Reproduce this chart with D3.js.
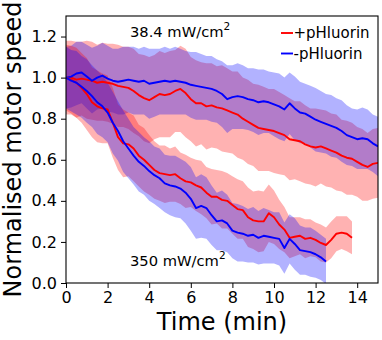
<!DOCTYPE html>
<html>
<head>
<meta charset="utf-8">
<script src="https://cdn.jsdelivr.net/npm/d3@7"></script>
<style>
  html, body { margin: 0; padding: 0; background: #fff; }
  svg { display: block; font-family: "DejaVu Sans", sans-serif; }
</style>
</head>
<body>
<svg id="chart" width="382" height="340"></svg>
<script>
// ---- data ----
const timeMin = [0,0.25,0.5,0.75,1,1.25,1.5,1.75,2,2.25,2.5,2.75,3,3.25,3.5,3.75,4,4.25,4.5,4.75,5,5.25,5.5,5.75,6,6.25,6.5,6.75,7,7.25,7.5,7.75,8,8.25,8.5,8.75,9,9.25,9.5,9.75,10,10.25,10.5,10.75,11,11.25,11.5,11.75,12,12.25,12.5,12.75,13,13.25,13.5,13.75,14,14.25,14.5,14.75,15];

// 38.4 mW/cm^2, +pHluorin
const lowIntRedMean = [1.00,1.00,0.99,0.995,0.99,0.985,0.975,0.98,0.975,0.97,0.96,0.955,0.95,0.935,0.915,0.90,0.89,0.905,0.92,0.915,0.92,0.935,0.945,0.925,0.895,0.875,0.875,0.86,0.865,0.855,0.85,0.84,0.83,0.82,0.80,0.785,0.77,0.755,0.75,0.745,0.74,0.73,0.72,0.70,0.695,0.69,0.675,0.665,0.66,0.665,0.655,0.645,0.635,0.62,0.61,0.605,0.59,0.575,0.565,0.58,0.585];
const lowIntRedSd = [0.18,0.18,0.185,0.18,0.19,0.19,0.185,0.19,0.19,0.195,0.20,0.195,0.20,0.205,0.20,0.21,0.21,0.205,0.21,0.205,0.21,0.20,0.21,0.215,0.205,0.21,0.20,0.21,0.205,0.20,0.21,0.205,0.20,0.21,0.20,0.205,0.20,0.21,0.205,0.20,0.205,0.20,0.195,0.20,0.19,0.195,0.19,0.185,0.19,0.18,0.185,0.18,0.185,0.175,0.18,0.175,0.17,0.175,0.165,0.17,0.17];
// 38.4 mW/cm^2, -pHluorin
const lowIntBlueMean = [1.00,1.005,1.02,1.025,1.005,0.985,1.0,1.01,0.995,0.985,0.98,0.985,0.99,0.985,0.98,0.985,0.97,0.975,0.98,0.985,0.98,0.985,0.98,0.975,0.965,0.96,0.955,0.95,0.945,0.935,0.92,0.895,0.905,0.91,0.905,0.895,0.89,0.88,0.885,0.88,0.87,0.86,0.845,0.875,0.85,0.83,0.825,0.81,0.795,0.785,0.775,0.765,0.755,0.74,0.72,0.71,0.70,0.705,0.70,0.68,0.665];
const lowIntBlueSd = [0.15,0.15,0.155,0.15,0.155,0.16,0.155,0.16,0.16,0.155,0.16,0.165,0.16,0.165,0.16,0.165,0.17,0.165,0.16,0.165,0.16,0.165,0.16,0.155,0.16,0.165,0.16,0.155,0.16,0.155,0.16,0.165,0.155,0.16,0.155,0.15,0.155,0.16,0.155,0.15,0.155,0.16,0.155,0.15,0.155,0.15,0.145,0.15,0.155,0.15,0.145,0.15,0.145,0.15,0.145,0.14,0.145,0.15,0.145,0.14,0.145];

// 350 mW/cm^2, +pHluorin (0 - 13.75 min)
const highIntRedMean = [1.00,0.99,0.975,0.95,0.92,0.88,0.86,0.85,0.845,0.78,0.71,0.68,0.675,0.655,0.62,0.60,0.575,0.55,0.535,0.53,0.525,0.53,0.51,0.495,0.49,0.475,0.465,0.44,0.42,0.42,0.405,0.40,0.38,0.36,0.355,0.32,0.305,0.30,0.30,0.34,0.32,0.285,0.26,0.22,0.225,0.23,0.215,0.22,0.21,0.195,0.185,0.21,0.24,0.245,0.24,0.22];
const highIntRedSd = [0.16,0.165,0.17,0.17,0.175,0.17,0.175,0.17,0.165,0.17,0.16,0.165,0.155,0.16,0.15,0.155,0.145,0.14,0.135,0.14,0.13,0.135,0.125,0.13,0.12,0.125,0.13,0.125,0.135,0.13,0.14,0.135,0.14,0.145,0.14,0.145,0.14,0.15,0.145,0.14,0.13,0.12,0.11,0.10,0.095,0.09,0.095,0.09,0.085,0.09,0.085,0.09,0.085,0.08,0.085,0.08];
// 350 mW/cm^2, -pHluorin (0 - 12.5 min)
const highIntBlueMean = [1.00,0.985,0.975,0.955,0.935,0.91,0.88,0.86,0.83,0.78,0.74,0.69,0.655,0.62,0.59,0.57,0.545,0.525,0.51,0.485,0.475,0.47,0.46,0.44,0.41,0.365,0.375,0.365,0.33,0.30,0.305,0.29,0.255,0.245,0.24,0.23,0.235,0.22,0.23,0.225,0.22,0.215,0.17,0.215,0.19,0.16,0.155,0.15,0.14,0.125,0.105];
const highIntBlueSd = [0.15,0.15,0.155,0.15,0.155,0.15,0.155,0.15,0.145,0.15,0.145,0.15,0.145,0.14,0.145,0.14,0.145,0.14,0.145,0.14,0.145,0.15,0.145,0.15,0.155,0.15,0.155,0.15,0.145,0.14,0.145,0.14,0.135,0.14,0.135,0.13,0.135,0.13,0.135,0.13,0.125,0.13,0.125,0.12,0.125,0.12,0.115,0.12,0.115,0.11,0.11];

const xTicks = [0,2,4,6,8,10,12,14];
const yTicks = [0.0,0.2,0.4,0.6,0.8,1.0,1.2];
const seriesNames = ["+pHluorin", "-pHluorin"];
const seriesColors = ["#ff0000", "#0000ff"];

// ---- layout ----
const svg = d3.select("#chart");
const L = 66, R = 378, T = 16, B = 283;
const x = d3.scaleLinear().domain([0, 15]).range([L, R]);
const y = d3.scaleLinear().domain([0, 1.3]).range([B, T]);

function build(mean, sd, color) {
  return { color, pts: mean.map((m, i) => ({ t: timeMin[i], m, s: sd[i] })) };
}
const series = [
  build(lowIntRedMean, lowIntRedSd, seriesColors[0]),
  build(lowIntBlueMean, lowIntBlueSd, seriesColors[1]),
  build(highIntRedMean, highIntRedSd, seriesColors[0]),
  build(highIntBlueMean, highIntBlueSd, seriesColors[1])
];

const clip = svg.append("defs").append("clipPath").attr("id", "plotclip")
  .append("rect").attr("x", L).attr("y", T).attr("width", R - L).attr("height", B - T);

const plot = svg.append("g").attr("clip-path", "url(#plotclip)");

const area = d3.area().x(d => x(d.t)).y0(d => y(d.m - d.s)).y1(d => y(d.m + d.s));
const line = d3.line().x(d => x(d.t)).y(d => y(d.m));

series.forEach(s => {
  plot.append("path").attr("d", area(s.pts)).attr("fill", s.color).attr("fill-opacity", 0.3).attr("stroke", "none");
});
series.forEach(s => {
  plot.append("path").attr("d", line(s.pts)).attr("fill", "none").attr("stroke", s.color)
    .attr("stroke-width", 1.9).attr("stroke-linejoin", "round");
});

// axes
const xAxis = svg.append("g").attr("transform", `translate(0,${B})`)
  .call(d3.axisBottom(x).tickValues(xTicks).tickSize(5).tickPadding(4).tickFormat(d3.format("d")));
const yAxis = svg.append("g").attr("transform", `translate(${L},0)`)
  .call(d3.axisLeft(y).tickValues(yTicks).tickSize(5).tickPadding(4).tickFormat(d3.format(".1f")));
[xAxis, yAxis].forEach(a => {
  a.select(".domain").remove();
  a.selectAll("text").attr("font-size", 16).attr("font-family", "DejaVu Sans").attr("fill", "#000");
  a.selectAll("line").attr("stroke", "#000").attr("stroke-width", 1);
});

// frame
svg.append("rect").attr("x", L).attr("y", T).attr("width", R - L).attr("height", B - T)
  .attr("fill", "none").attr("stroke", "#000").attr("stroke-width", 1.1);

// axis labels
svg.append("text").attr("x", (L + R) / 2).attr("y", 330).attr("text-anchor", "middle")
  .attr("font-size", 24).text("Time (min)");
svg.append("text").attr("transform", `translate(21,${(T + B) / 2}) rotate(-90)`)
  .attr("text-anchor", "middle").attr("font-size", 24).text("Normalised motor speed");

// annotations
function annot(px, py, main) {
  const t = svg.append("text").attr("x", px).attr("y", py).attr("font-size", 14.7);
  t.append("tspan").text(main);
  t.append("tspan").attr("dy", -7).attr("font-size", 10.5).text("2");
}
annot(130, 37, "38.4 mW/cm");
annot(130, 266, "350 mW/cm");

// legend
seriesNames.forEach((name, i) => {
  const ly = 33 + i * 20.5;
  svg.append("line").attr("x1", 281).attr("x2", 293).attr("y1", ly).attr("y2", ly)
    .attr("stroke", seriesColors[i]).attr("stroke-width", 1.9);
  svg.append("text").attr("x", 293.5).attr("y", ly + 5).attr("font-size", 15).text(name);
});
</script>
</body>
</html>
